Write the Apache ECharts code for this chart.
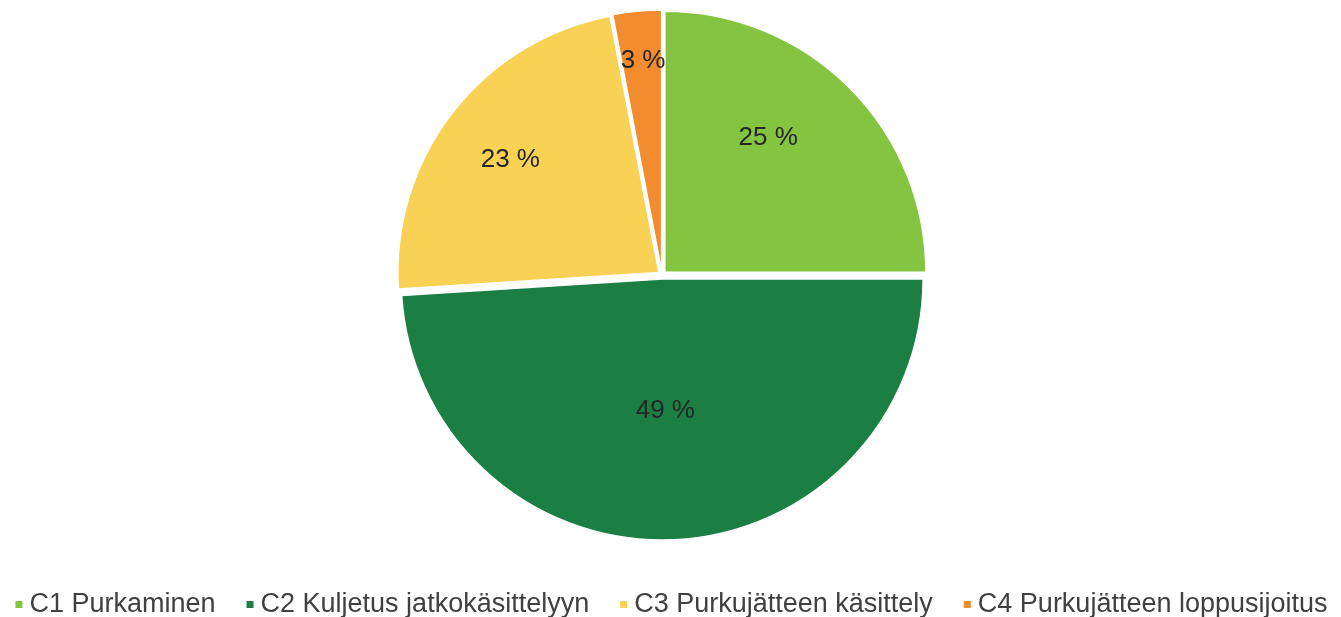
<!DOCTYPE html>
<html>
<head>
<meta charset="utf-8">
<script src="https://cdn.jsdelivr.net/npm/echarts@6/dist/echarts.min.js"></script>
<style>
  html, body { margin: 0; padding: 0; background: #fff; }
  #chart { width: 1341px; height: 617px; }
</style>
</head>
<body>
<div id="chart"></div>
<script>
// Life-cycle stages of the demolition phase and their share (%)
const stages = [
  'C1 Purkaminen',
  'C2 Kuljetus jatkokäsittelyyn',
  'C3 Purkujätteen käsittely',
  'C4 Purkujätteen loppusijoitus'
];
const shares = [25, 49, 23, 3];
const stageColors = ['#84C441', '#1B7F44', '#F9D154', '#F28C2E'];

// Nudges that move each percentage label away from its default inside spot
const labelNudge = [[9, -40], [-1, -2], [-43, -31], [-6, -77]];

const chart = echarts.init(document.getElementById('chart'), null, { renderer: 'canvas' });

chart.setOption({
  animation: false,
  color: stageColors,
  legend: {
    data: stages,
    left: 'center',
    top: 586,
    icon: 'rect',
    itemWidth: 9,
    itemHeight: 9,
    itemGap: 29,
    selectedMode: false,
    textStyle: {
      fontFamily: 'Liberation Sans, Arial, sans-serif',
      fontSize: 27,
      color: '#404040',
      padding: [0, 0, 0, 1]
    }
  },
  series: [{
    type: 'pie',
    center: [662, 275],
    radius: 261,
    startAngle: 90,
    clockwise: true,
    selectedMode: 'multiple',
    selectedOffset: 4,
    avoidLabelOverlap: false,
    emphasis: { disabled: true },
    itemStyle: { borderColor: '#ffffff', borderWidth: 1.5 },
    label: {
      show: true,
      position: 'inside',
      formatter: p => p.value + ' %',
      fontFamily: 'Liberation Sans, Arial, sans-serif',
      fontSize: 26,
      color: '#262626'
    },
    labelLine: { show: false },
    labelLayout: p => ({ dx: labelNudge[p.dataIndex][0], dy: labelNudge[p.dataIndex][1] }),
    data: stages.map((name, i) => ({ name: name, value: shares[i], selected: true }))
  }]
});
</script>
</body>
</html>
